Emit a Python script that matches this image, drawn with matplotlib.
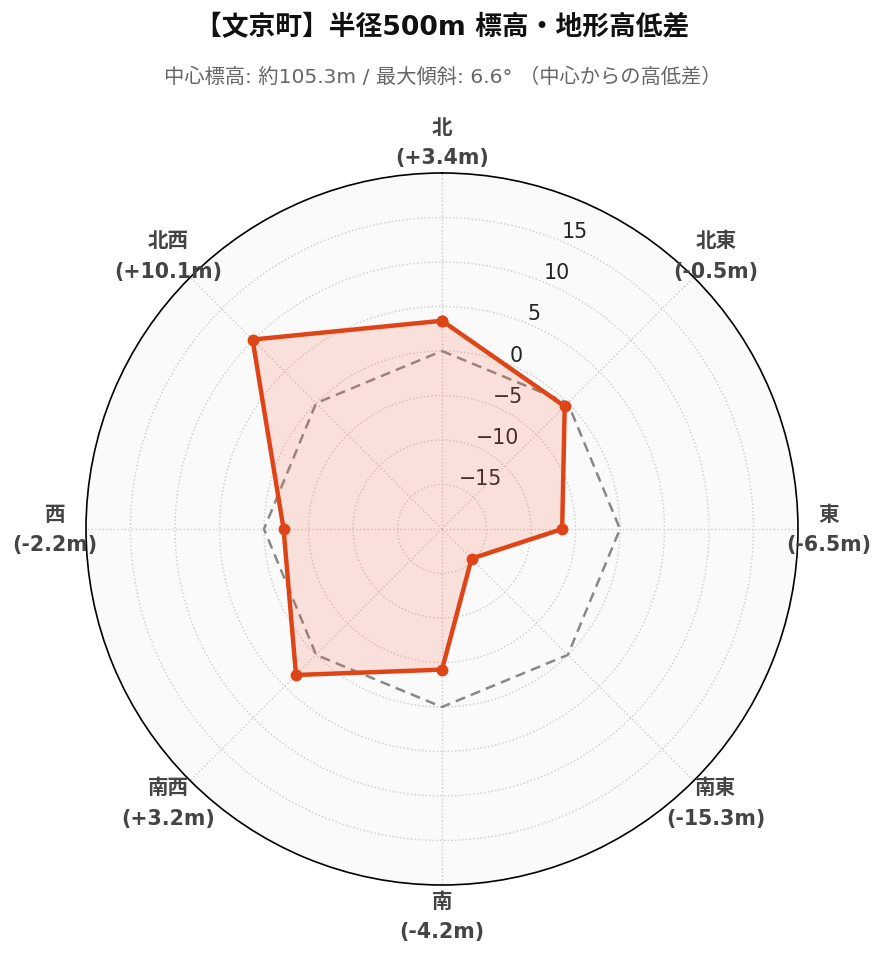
import numpy as np
import matplotlib
matplotlib.use("Agg")
import matplotlib.pyplot as plt

plt.rcParams['font.family'] = ['DejaVu Sans', 'Noto Sans CJK JP']

directions = ["北", "北東", "東", "南東", "南", "南西", "西", "北西"]
values = [3.4, -0.5, -6.5, -15.3, -4.2, 3.2, -2.2, 10.1]
baseline = [0, 0, 0, 0, 0, 0, 0, 0]
rticks = [-15, -10, -5, 0, 5, 10, 15]
title = "【文京町】半径500m 標高・地形高低差"
subtitle = "中心標高: 約105.3m / 最大傾斜: 6.6° （中心からの高低差）"

rmin, rmax = -20, 20
line_color = "#de4416"

fig = plt.figure(figsize=(8.85, 9.62), dpi=100)
ax = fig.add_axes([86/885, 76/962, 712/885, 712/962], projection='polar')
ax.set_theta_zero_location('N')
ax.set_theta_direction(-1)
ax.set_facecolor('#fafafa')
ax.set_ylim(rmin, rmax)

theta = np.deg2rad(np.arange(len(directions)) * 45.0)
th_c = np.append(theta, theta[0])
v_c = np.append(values, values[0])
b_c = np.append(baseline, baseline[0])

ax.plot(th_c, b_c, color='#888888', lw=1.8, ls=(0, (4, 2.5)), zorder=2)
ax.fill(th_c, v_c, color='#ff6a4a', alpha=0.18, lw=0, zorder=3)
ax.plot(th_c, v_c, color=line_color, lw=3.2, marker='o', ms=7.5, zorder=4)

ax.set_xticks(theta)
ax.set_xticklabels([])
ax.set_yticks(rticks)
ax.set_yticklabels([str(t).replace('-', '\u2212') for t in rticks], fontsize=14.8, color='#222222')
ax.set_rlabel_position(22.5)
ax.grid(True, color='#cccccc', ls=':', lw=1.0)
ax.spines['polar'].set_color('black')
ax.spines['polar'].set_linewidth(1.2)
for lbl in ax.get_yticklabels():
    lbl.set_zorder(6)

label_r = rmin + (rmax - rmin) * 387 / 356
for th, d, v in zip(theta, directions, values):
    ax.text(th, label_r, f"{d}\n({v:+.1f}m)", ha='center', va='center',
            fontsize=14.8, fontweight='bold', color='#444444',
            linespacing=1.65, clip_on=False)

fig.text(0.5, 1 - 28/962, title, ha='center', va='center', fontsize=19.3, fontweight='bold', color='#111111')
fig.text(0.5, 1 - 77/962, subtitle, ha='center', va='center', fontsize=14.6, color='#666666')

fig.savefig('out.png', dpi=100)
